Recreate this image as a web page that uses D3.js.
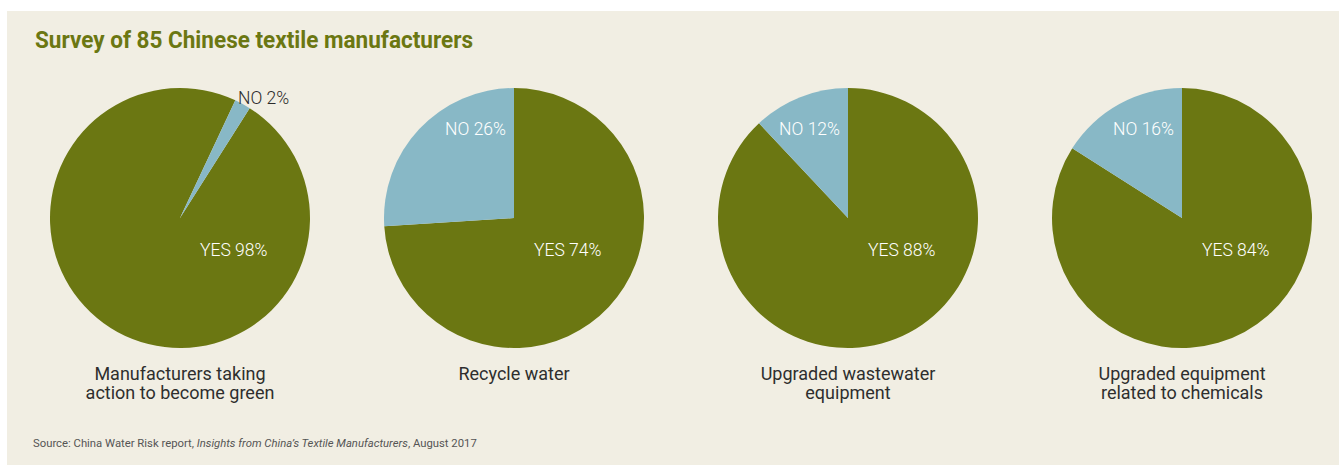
<!DOCTYPE html>
<html>
<head>
<meta charset="utf-8">
<script src="https://cdn.jsdelivr.net/npm/d3@7"></script>
<style>
  body { margin: 0; background: #fff; }
  text { font-family: "Roboto", "Liberation Sans", sans-serif; }
</style>
</head>
<body>
<svg id="chart"></svg>
<script>
const categories = [
  ["Manufacturers taking", "action to become green"],
  ["Recycle water"],
  ["Upgraded wastewater", "equipment"],
  ["Upgraded equipment", "related to chemicals"]
];
const yesValues = [98, 74, 88, 84];
const noValues = [2, 26, 12, 16];
// where the pie starts (in turns from 12 o'clock); first pie is rotated
const startTurns = [0.09, 0, 0, 0];

const title = "Survey of 85 Chinese textile manufacturers";
const sourceParts = [
  { t: "Source: China Water Risk report, ", italic: false },
  { t: "Insights from China\u2019s Textile Manufacturers", italic: true },
  { t: ", August 2017", italic: false }
];

const width = 1339;
const height = 466;
const green = "#6b7712";
const blue = "#88b8c6";

const svg = d3.select("#chart").attr("width", width).attr("height", height);

svg.append("rect")
  .attr("x", 7).attr("y", 11)
  .attr("width", width - 7).attr("height", height - 12)
  .attr("fill", "#f1eee3");

svg.append("text")
  .attr("x", 35).attr("y", 48)
  .attr("fill", green)
  .attr("font-size", 24)
  .attr("font-weight", 700)
  .attr("textLength", 438)
  .attr("lengthAdjust", "spacingAndGlyphs")
  .text(title);

const x = d3.scalePoint()
  .domain(d3.range(categories.length))
  .range([180, 1182]);
const cy = 218;
const r = 130;

const arc = d3.arc().innerRadius(0).outerRadius(r);

categories.forEach((cat, i) => {
  const data = [
    { key: "YES", value: yesValues[i] },
    { key: "NO", value: noValues[i] }
  ];
  const start = startTurns[i] * 2 * Math.PI;
  const pie = d3.pie().sort(null).value(d => d.value)
    .startAngle(start).endAngle(start + 2 * Math.PI);
  const g = svg.append("g").attr("transform", `translate(${x(i)},${cy})`);

  g.selectAll("path")
    .data(pie(data))
    .join("path")
    .attr("d", arc)
    .attr("fill", d => d.data.key === "YES" ? green : blue);

  g.append("text")
    .attr("x", 20).attr("y", 38)
    .attr("fill", "#fff")
    .attr("font-size", 17.5)
    .attr("font-weight", 300)
    .text(`YES ${yesValues[i]}%`);

  const small = noValues[i] < 5;
  g.append("text")
    .attr("x", small ? 58 : -8)
    .attr("y", small ? -114 : -83)
    .attr("text-anchor", small ? "start" : "end")
    .attr("fill", small ? "#2b2b2b" : "#fff")
    .attr("font-size", 17.5)
    .attr("font-weight", 300)
    .text(`NO ${noValues[i]}%`);

  const lbl = svg.append("text")
    .attr("text-anchor", "middle")
    .attr("fill", "#2e2e2e")
    .attr("font-size", 18);
  cat.forEach((line, j) => {
    lbl.append("tspan")
      .attr("x", x(i))
      .attr("y", 380 + j * 19)
      .text(line);
  });
});

const src = svg.append("text")
  .attr("x", 33).attr("y", 447)
  .attr("fill", "#555")
  .attr("font-size", 11.3);
sourceParts.forEach(p => {
  src.append("tspan")
    .attr("font-style", p.italic ? "italic" : "normal")
    .text(p.t);
});
</script>
</body>
</html>
